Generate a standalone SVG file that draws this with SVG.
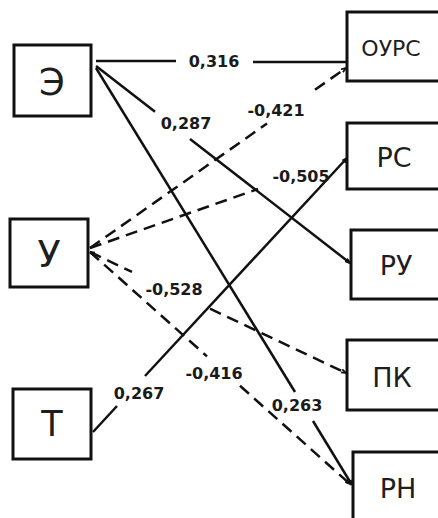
<svg xmlns="http://www.w3.org/2000/svg" width="438" height="518" viewBox="0 0 438 518">
<style>
.box{fill:#fff;stroke:#111;stroke-width:3}
.nt{font-family:"DejaVu Sans",sans-serif;fill:#1e1e1e;text-anchor:middle}
.ln{stroke:#111;stroke-width:2.5;fill:none;stroke-linecap:butt}
.d{stroke-dasharray:12 7}
.lb{font-family:"DejaVu Sans",sans-serif;font-weight:bold;font-size:16px;fill:#1a1a1a;text-anchor:middle}
</style>
<defs>
<marker id="ah" viewBox="0 0 10 10" refX="10" refY="5" markerWidth="5" markerHeight="5" markerUnits="userSpaceOnUse" orient="auto-start-reverse">
<path d="M0,1.5 L10,5 L0,8.5" fill="none" stroke="#111" stroke-width="3.5" stroke-dasharray="none"/>
</marker>
</defs>
<rect width="438" height="518" fill="#fff"/>
<g id="node-E"><rect class="box" x="14" y="45" width="77" height="71"/><text class="nt" x="52" y="95" font-size="37">Э</text></g>
<g id="node-U"><rect class="box" x="10" y="219" width="78" height="68"/><text class="nt" x="49" y="267" font-size="38">У</text></g>
<g id="node-T"><rect class="box" x="13" y="389" width="78" height="70"/><text class="nt" x="52" y="436" font-size="35">Т</text></g>
<g id="node-OURS"><rect class="box" x="347" y="12" width="100" height="69"/><text class="nt" x="391" y="56" font-size="22">ОУРС</text></g>
<g id="node-RS"><rect class="box" x="347" y="123" width="100" height="66"/><text class="nt" x="394" y="167" font-size="27">РС</text></g>
<g id="node-RU"><rect class="box" x="351" y="230" width="100" height="69"/><text class="nt" x="396" y="275" font-size="27">РУ</text></g>
<g id="node-PK"><rect class="box" x="347" y="340" width="100" height="70"/><text class="nt" x="392" y="387" font-size="27">ПК</text></g>
<g id="node-RN"><rect class="box" x="353" y="452" width="100" height="80"/><text class="nt" x="398" y="498" font-size="27">РН</text></g>
<g id="connectors">
<path class="ln" d="M96,61 L176,61 M253,62 L346,62"/>
<path class="ln" d="M96,66 L155,111.8"/>
<path class="ln" d="M190,138.9 L350,263" marker-end="url(#ah)"/>
<path class="ln" d="M96,68 L295,392"/>
<path class="ln" d="M313,421 L352,485" marker-end="url(#ah)"/>
<path class="ln" d="M93,432 L117,406"/>
<path class="ln" d="M145,376 L347,158" marker-end="url(#ah)"/>
<path class="ln d" d="M90,248 L267,123.5"/>
<path class="ln d" d="M315,89.8 L346,68" marker-end="url(#ah)"/>
<path class="ln d" d="M90,248 L258,189"/>
<path class="ln d" d="M90,252 L132,271.9" marker-start="url(#ah)"/>
<path class="ln d" d="M210,308.7 L346,373" marker-end="url(#ah)"/>
<path class="ln d" d="M90,252 L207,356.4"/>
<path class="ln d" d="M240,385.8 L350,484" marker-end="url(#ah)"/>
</g>
<g id="labels">
<text class="lb" x="214" y="67">0,316</text>
<text class="lb" x="186" y="129">0,287</text>
<text class="lb" x="276" y="116">-0,421</text>
<text class="lb" x="301" y="182">-0,505</text>
<text class="lb" x="174" y="295">-0,528</text>
<text class="lb" x="214" y="379">-0,416</text>
<text class="lb" x="139" y="399">0,267</text>
<text class="lb" x="297" y="411">0,263</text>
</g>
</svg>
